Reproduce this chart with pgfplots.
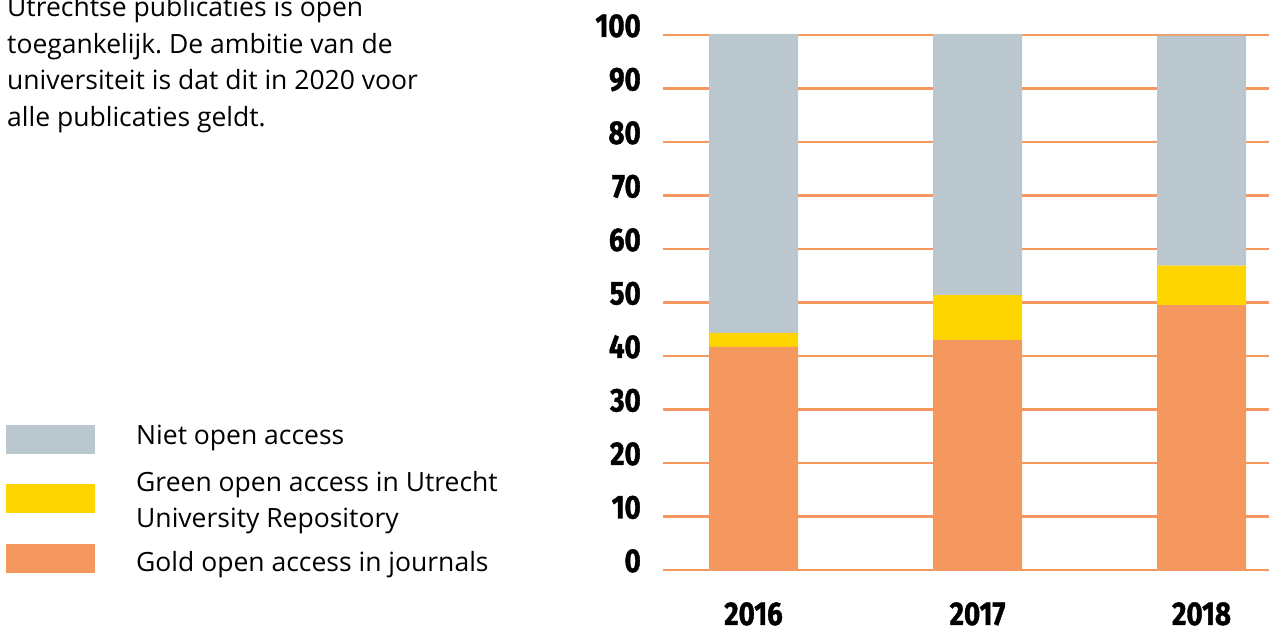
\documentclass[border=0pt]{standalone}
\usepackage{fontspec}
\setmainfont{Open Sans}
\newfontfamily\tickfont[FakeStretch=0.84, FakeBold=1.2]{Fira Sans}
\usepackage{pgfplots}
\pgfplotsset{compat=1.18}
\definecolor{cgrey}{HTML}{BAC7CF}
\definecolor{cyellow}{HTML}{FFD500}
\definecolor{corange}{HTML}{F4985F}
\definecolor{cgrid}{HTML}{F4985F}
\frenchspacing
\begin{document}
\begin{tikzpicture}[x=1pt,y=1pt]
\path[use as bounding box] (0,0) rectangle (1269,628);
\clip (0,0) rectangle (1269,628);
% intro text
\begingroup
\fontsize{26.5}{36.7}\selectfont
\node[anchor=base west, inner sep=0pt] at (7,611) {Utrechtse publicaties is open};
\node[anchor=base west, inner sep=0pt] at (7,574.5) {toegankelijk. De ambitie van de};
\node[anchor=base west, inner sep=0pt] at (7,538) {universiteit is dat dit in 2020 voor};
\node[anchor=base west, inner sep=0pt] at (7,501.5) {alle publicaties geldt.};
% legend
\fill[cgrey] (6,174.3) rectangle (95,203);
\fill[cyellow] (6,115.3) rectangle (95,144);
\fill[corange] (6,55.3) rectangle (95,84);
\node[anchor=base west, inner sep=0pt] at (136,183) {Niet open access};
\node[anchor=base west, inner sep=0pt] at (136,136.3) {Green open access in Utrecht};
\node[anchor=base west, inner sep=0pt] at (136,100) {University Repository};
\node[anchor=base west, inner sep=0pt] at (136,56.3) {Gold open access in journals};
\endgroup
\begin{axis}[
  at={(663pt,58pt)}, anchor=south west,
  scale only axis, width=606pt, height=535pt,
  xmin=-0.404, xmax=2.301, ymin=0, ymax=100,
  ybar stacked, bar width=89pt,
  axis line style={draw=none},
  major tick length=0pt,
  ytick={0,10,...,100},
  xtick={0,1,2}, xticklabels={2016,2017,2018},
  ymajorgrids, grid style={cgrid, line width=2.5pt},
  clip=false,
  /pgf/number format/assume math mode=true,
  yticklabel style={font=\tickfont\bfseries\fontsize{33}{36}\selectfont, anchor=base east, inner sep=0pt, xshift=-22pt, yshift=-2pt},
  xticklabel style={font=\tickfont\bfseries\fontsize{33}{36}\selectfont, anchor=base, inner sep=0pt, yshift=-55pt},
]
\addplot[fill=corange, draw=none] coordinates {(0,41.7) (1,43.0) (2,49.5)};
\addplot[fill=cyellow, draw=none] coordinates {(0,2.6) (1,8.4) (2,7.4)};
\addplot[fill=cgrey, draw=none] coordinates {(0,55.9) (1,48.8) (2,43.0)};
\draw[cgrid, line width=2.5pt, opacity=0.8] (rel axis cs:0,1) -- (rel axis cs:1,1);
\end{axis}
\end{tikzpicture}
\end{document}
